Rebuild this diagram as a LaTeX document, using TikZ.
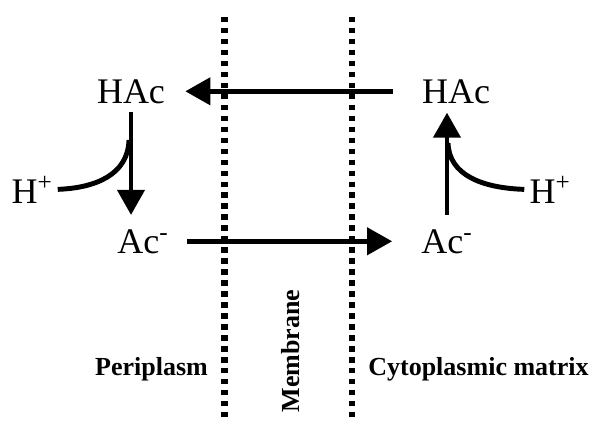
\documentclass[tikz,border=0pt]{standalone}
\usepackage{fontspec}
\setmainfont{Liberation Serif}
\usetikzlibrary{arrows.meta,calc}
\begin{document}
\begin{tikzpicture}[x=0.025cm, y=-0.025cm,
  every node/.style={inner sep=0pt, anchor=base},
  chem/.style={font=\fontsize{25.6}{30}\selectfont},
  region/.style={font=\fontsize{18.5}{22}\selectfont\bfseries},
  flow/.style={line width=3.5pt, -{Triangle[length=17.8pt, width=19pt]}},
  protoncurve/.style={line width=3.5pt},
  wall/.style={line width=4.3pt, dash pattern=on 3.9pt off 3.9pt}]
\useasboundingbox (0,0) rectangle (591,421);

% membrane walls
\coordinate (wLt) at (224.5,17);
\coordinate (wLb) at (224.5,421);
\coordinate (wRt) at (352,17);
\coordinate (wRb) at (352,421);
\draw[wall] (wLt)--(wLb);
\draw[wall] (wRt)--(wRb);

\node[chem] (hacL) at (131,103) {HAc};
\node[chem] (hacR) at (456,103) {HAc};
\node[chem] (acL) at (143,253) {Ac\textsuperscript{-}};
\node[chem] (acR) at (447,253) {Ac\textsuperscript{-}};
\node[chem] (hpL) at (32,203) {H\textsuperscript{+}};
\node[chem] (hpR) at (550,203) {H\textsuperscript{+}};

\draw[flow, shorten <=0.725cm, shorten >=0.5cm] (hacR.west)--(hacL.east);
\draw[flow, shorten <=0.45cm, shorten >=0.725cm] (acL.east)--(acR.west);
\draw[flow, shorten <=0.2cm, shorten >=0.35cm] (hacL.south)--(hacL.south |- acL.north);
\draw[flow, shorten <=0.35cm, shorten >=0.225cm] (acR.north)--(acR.north |- hacR.south);

\coordinate (jL) at (129,140);
\coordinate (jR) at (448,143);
\draw[protoncurve, shorten <=0.125cm] (hpL.east) .. controls (95,188) and (128,175) .. (jL);
\draw[protoncurve, shorten <=0.125cm] (hpR.west) .. controls (482,188) and (449,175) .. (jR);

\node[region] (peri) at (151.5,375) {Periplasm};
\node[region] (cyto) at (478.5,375) {Cytoplasmic matrix};
\node[region, rotate=90, anchor=center] (memb) at (291,351) {Membrane};
\end{tikzpicture}
\end{document}
